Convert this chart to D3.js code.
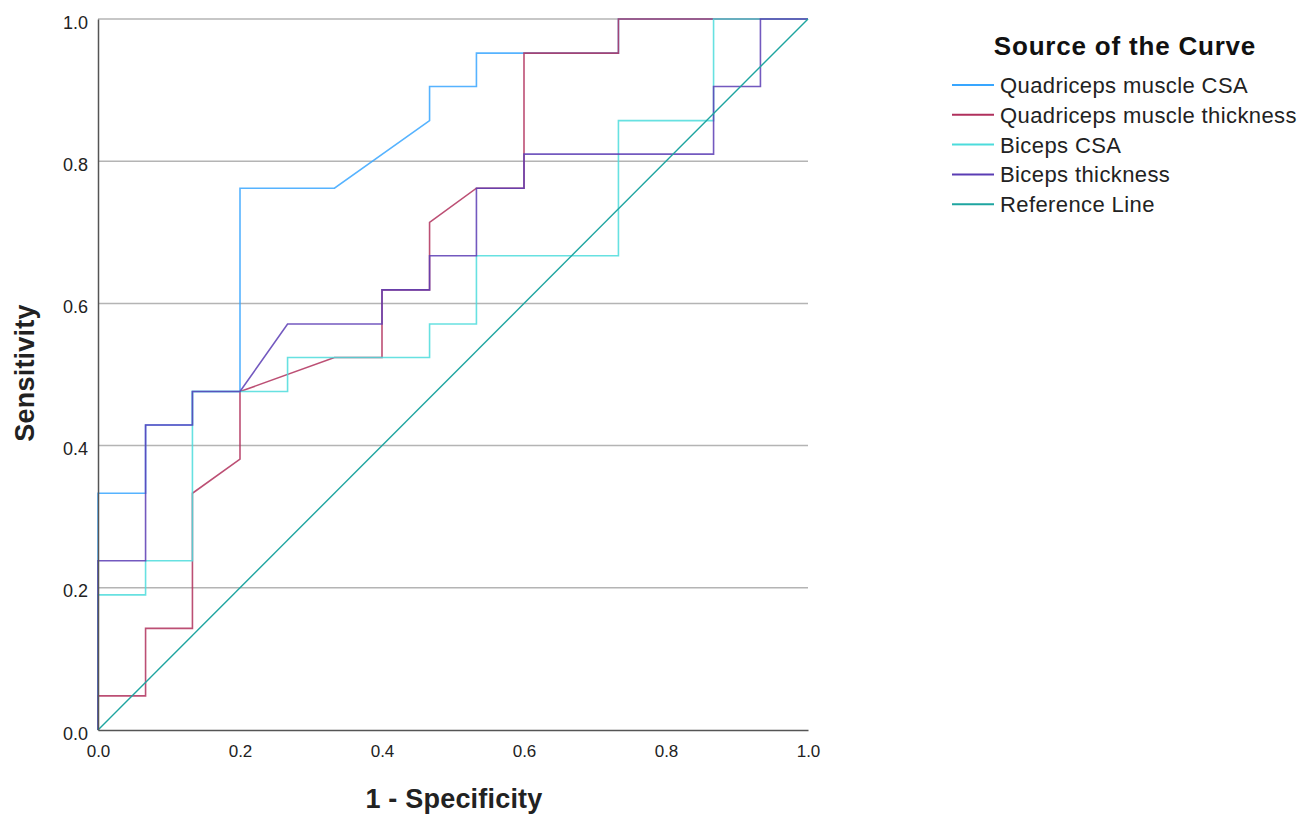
<!DOCTYPE html>
<html>
<head>
<meta charset="utf-8">
<script src="https://cdn.jsdelivr.net/npm/d3@7"></script>
<style>
  html, body { margin: 0; padding: 0; background: #fff; }
  svg { display: block; }
</style>
</head>
<body>
<svg id="chart" width="1311" height="816"></svg>
<script>
// ---- Data ----
const seriesNames = ["Quadriceps muscle CSA", "Quadriceps muscle thickness", "Biceps CSA", "Biceps thickness", "Reference Line"];
const seriesColors = ["#38a6ff", "#b0305c", "#4cdcdc", "#5a3cb4", "#1ea5a0"];

const quadCsaX = [0, 0, 0.067, 0.067, 0.133, 0.133, 0.2, 0.2, 0.333, 0.467, 0.467, 0.533, 0.533, 0.733, 0.733, 1];
const quadCsaY = [0, 0.333, 0.333, 0.429, 0.429, 0.476, 0.476, 0.762, 0.762, 0.857, 0.905, 0.905, 0.952, 0.952, 1, 1];

const quadThkX = [0, 0, 0.067, 0.067, 0.133, 0.133, 0.2, 0.2, 0.333, 0.4, 0.4, 0.467, 0.467, 0.533, 0.6, 0.6, 0.733, 0.733, 1];
const quadThkY = [0, 0.048, 0.048, 0.143, 0.143, 0.333, 0.381, 0.476, 0.524, 0.524, 0.619, 0.619, 0.714, 0.762, 0.762, 0.952, 0.952, 1, 1];

const bicCsaX = [0, 0, 0.067, 0.067, 0.133, 0.133, 0.267, 0.267, 0.467, 0.467, 0.533, 0.533, 0.733, 0.733, 0.867, 0.867, 1];
const bicCsaY = [0, 0.190, 0.190, 0.238, 0.238, 0.476, 0.476, 0.524, 0.524, 0.571, 0.571, 0.667, 0.667, 0.857, 0.857, 1, 1];

const bicThkX = [0, 0, 0.067, 0.067, 0.133, 0.133, 0.2, 0.267, 0.4, 0.4, 0.467, 0.467, 0.533, 0.533, 0.6, 0.6, 0.867, 0.867, 0.933, 0.933, 1];
const bicThkY = [0, 0.238, 0.238, 0.429, 0.429, 0.476, 0.476, 0.571, 0.571, 0.619, 0.619, 0.667, 0.667, 0.762, 0.762, 0.810, 0.810, 0.905, 0.905, 1, 1];

const refX = [0, 1];
const refY = [0, 1];

const tickValues = [0, 0.2, 0.4, 0.6, 0.8, 1.0];
const tickLabels = ["0.0", "0.2", "0.4", "0.6", "0.8", "1.0"];

// ---- Layout ----
const svg = d3.select("#chart");
const plotLeft = 98, plotRight = 808, plotTop = 19, plotBottom = 730;
const x = d3.scaleLinear().domain([0, 1]).range([plotLeft, plotRight]);
const y = d3.scaleLinear().domain([0, 1]).range([plotBottom, plotTop]);
const font = "Liberation Sans, Arial, sans-serif";

// Grid lines
svg.append("g").selectAll("line").data(tickValues.slice(1)).join("line")
  .attr("x1", plotLeft).attr("x2", plotRight)
  .attr("y1", d => y(d)).attr("y2", d => y(d))
  .attr("stroke", "#b4b4b4").attr("stroke-width", 1.5);

// Series
const series = [
  [quadCsaX, quadCsaY],
  [quadThkX, quadThkY],
  [bicCsaX, bicCsaY],
  [bicThkX, bicThkY],
  [refX, refY]
];
const line = d3.line().x(d => x(d[0])).y(d => y(d[1]));
series.forEach((s, i) => {
  const pts = s[0].map((v, j) => [v, s[1][j]]);
  svg.append("path").datum(pts)
    .attr("d", line)
    .attr("fill", "none")
    .attr("stroke", seriesColors[i])
    .attr("stroke-width", i === 4 ? 1.4 : 1.6)
    .attr("stroke-opacity", i === 4 ? 1 : 0.85)
    .attr("stroke-linejoin", "miter");
});

// Axes
const xAxis = d3.axisBottom(x).tickValues(tickValues).tickFormat((d, i) => tickLabels[i]).tickSize(0).tickPadding(15);
const yAxis = d3.axisLeft(y).tickValues(tickValues).tickFormat((d, i) => tickLabels[i]).tickSize(0).tickPadding(10);

const gx = svg.append("g").attr("transform", `translate(0,${plotBottom})`).call(xAxis);
gx.select(".domain").attr("stroke", "#555").attr("stroke-width", 1.5);
gx.selectAll("text").attr("font-family", font).attr("font-size", 17).attr("fill", "#222");

const gy = svg.append("g").attr("transform", `translate(${plotLeft},0)`).call(yAxis);
gy.select(".domain").attr("stroke", "#555").attr("stroke-width", 1.5);
gy.selectAll("text").attr("font-family", font).attr("font-size", 18).attr("fill", "#222").attr("dy", "0.5em");

// Axis titles
svg.append("text").attr("x", 454).attr("y", 808).attr("text-anchor", "middle")
  .attr("font-family", font).attr("font-weight", "bold").attr("font-size", 27)
  .attr("letter-spacing", 0.2).attr("fill", "#222")
  .text("1 - Specificity");
svg.append("text").attr("transform", "translate(34,373) rotate(-90)").attr("text-anchor", "middle")
  .attr("font-family", font).attr("font-weight", "bold").attr("font-size", 27)
  .attr("letter-spacing", 0.2).attr("fill", "#222")
  .text("Sensitivity");

// Legend
const lg = svg.append("g");
lg.append("text").attr("x", 1125).attr("y", 55).attr("text-anchor", "middle")
  .attr("font-family", font).attr("font-weight", "bold").attr("font-size", 26)
  .attr("letter-spacing", 0.8).attr("fill", "#111")
  .text("Source of the Curve");
seriesNames.forEach((n, i) => {
  const yy = 85 + i * 29.8;
  lg.append("line").attr("x1", 952).attr("x2", 994).attr("y1", yy).attr("y2", yy)
    .attr("stroke", seriesColors[i]).attr("stroke-width", 2);
  lg.append("text").attr("x", 1000).attr("y", yy + 8)
    .attr("font-family", font).attr("font-size", 22).attr("letter-spacing", 0.4).attr("fill", "#222")
    .text(n);
});
</script>
</body>
</html>
